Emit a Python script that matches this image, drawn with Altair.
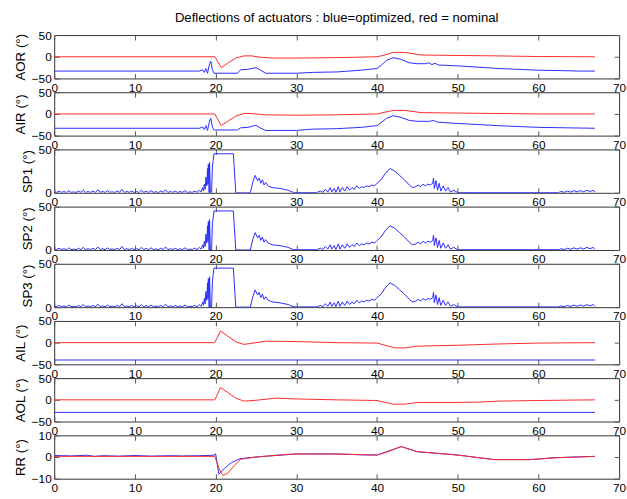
import altair as alt
import pandas as pd

TITLE = "Deflections of actuators : blue=optimized, red = nominal"
X_TICKS = [0, 10, 20, 30, 40, 50, 60, 70]

# ---- AOR ----
AOR_RED_T = [0, 19.9, 20.7, 21.5, 22.5, 23.5, 24.5, 25.5, 27, 30, 35, 40, 41, 42, 43.5, 45.5, 50, 55, 60, 67]
AOR_RED_V = [0, 0, -25, -15, -3, 2, 2, -1, -3, -3, -2, 0, 4, 10, 10, 4, 3, 2, 0.5, 0]
AOR_BLUE_T = [0, 18, 18.4, 18.6, 18.8, 19.0, 19.2, 19.4, 19.6, 19.8, 22.7, 23.1, 24, 25, 25.5, 26.2, 30, 32, 35, 38, 40,
              40.5, 41.2, 42, 43, 44, 45, 46, 46.4, 46.8, 47.2, 47.6, 50, 55, 60, 63, 65, 67]
AOR_BLUE_V = [-33, -33, -30, -36, -27, -38, -20, -10, -30, -38, -38, -30, -29, -25, -30, -38, -38, -36, -35, -31, -27,
              -20, -8, -2, -6, -14, -16, -16, -14, -18, -15, -19, -21, -27, -31, -32, -33, -33]

# ---- AIR ----
AIR_RED_T = [0, 19.9, 20.7, 21.5, 22.5, 23.5, 24.5, 26, 30, 35, 40, 41, 42, 43.5, 45.5, 50, 55, 60, 67]
AIR_RED_V = [0, 0, -27, -17, -5, 1, 1, -2, -3, -2, 0, 4, 8, 8, 3, 2, 1, 0, 0]
AIR_BLUE_T = [0, 18, 18.4, 18.6, 18.8, 19.0, 19.2, 19.4, 19.6, 19.8, 22.7, 23.1, 24, 25, 25.5, 26.2, 30, 32, 35, 38, 40,
              40.5, 41.2, 42, 43, 44, 45, 46.5, 47, 47.5, 50, 55, 60, 67]
AIR_BLUE_V = [-33, -33, -30, -36, -27, -38, -20, -10, -30, -37, -37, -32, -31, -26, -32, -38, -38, -35, -34, -31, -27,
              -20, -10, -4, -8, -15, -17, -17, -15, -19, -22, -27, -31, -33]

# ---- SP1 / SP2 / SP3 (blue only) ----
SP1_T = [0, 0.3, 0.6, 0.9, 1.2, 1.5, 1.8, 2.1, 2.4, 2.7, 3.0, 3.3, 3.6, 3.9, 4.2, 4.5, 4.8, 5.1, 5.4, 5.7,
         6.0, 6.3, 6.6, 6.9, 7.2, 7.5, 7.8, 8.1, 8.4, 8.7, 9.0, 9.3, 9.6, 9.9, 10.2, 10.5, 10.8, 11.1, 11.4, 11.7,
         12.0, 12.3, 12.6, 12.9, 13.2, 13.5, 13.8, 14.1, 14.4, 14.7, 15.0, 15.3, 15.6, 15.9, 16.2, 16.5, 16.8, 17.1,
         17.4, 17.7, 18.0, 18.2, 18.4, 18.5, 18.6, 18.7, 18.8, 18.9, 19.0, 19.05, 19.1, 19.2, 19.25, 19.35, 19.5,
         19.6, 19.8, 22.2, 22.5, 24.3, 24.6, 24.9, 25.2, 25.4, 25.6, 25.8, 26.0, 26.2, 26.5, 27.0, 28, 29, 29.6, 30,
         32.5, 33.0, 33.3, 33.6, 33.9, 34.2, 34.4, 34.7, 34.9, 35.2, 35.4, 35.7, 36.0, 36.3, 36.6, 36.9, 37.2, 37.5,
         37.8, 38.1, 38.4, 38.7, 39.0, 39.4, 39.7, 40.0, 40.5, 41.0, 41.6, 42.2, 42.8, 43.4, 44.0, 44.4, 44.8, 45.1,
         45.4, 45.7, 46.0, 46.3, 46.6, 46.9, 47.0, 47.1, 47.3, 47.5, 47.7, 47.9, 48.2, 48.5, 48.8, 49.1, 49.5, 50,
         62.5, 62.8, 63.2, 63.6, 64.0, 64.4, 64.8, 65.2, 65.6, 66.0, 66.4, 66.8, 67.0]
SP1_V = [1, 0.5, 2, 0.5, 1.5, 0.3, 2.5, 0.5, 1, 0.3, 2, 0.5, 3, 0.4, 1.5, 0.5, 2, 0.3, 3.5, 0.5,
         1.5, 0.4, 2.5, 0.5, 1.2, 0.3, 2, 0.5, 4, 0.4, 1.5, 0.5, 2, 0.4, 1.5, 0.3, 3, 0.5, 1.8, 0.4,
         2.5, 0.5, 1.2, 0.3, 2, 0.5, 3.5, 0.4, 1.5, 0.5, 2, 0.3, 1.5, 0.5, 2.5, 0.4, 1, 0.5,
         2, 0.5, 3, 1, 6, 2, 10, 4, 18, 8, 28, 10, 33, 0, 35, 0, 0,
         30, 45, 45, 0, 0, 12, 20, 14, 17, 11, 15, 9, 12, 8, 6, 5, 3, 0.5, 0.3,
         0.3, 2, 0.5, 4, 1, 6, 1, 5, 0.5, 7, 1, 6, 2, 7, 3, 6, 4, 8,
         5, 7, 6, 8, 7, 9, 8, 11, 15, 22, 28, 25, 20, 15, 9, 6, 7, 9,
         7, 10, 8, 10, 9, 11, 17, 5, 14, 3, 11, 2, 8, 2, 6, 1, 3, 0.3,
         0.3, 1.5, 0.5, 2, 0.8, 2.5, 1, 2.5, 1.2, 3, 1.5, 3, 1]
SP2_T, SP2_V = SP1_T, SP1_V
SP3_T, SP3_V = SP1_T, SP1_V

# ---- AIL ----
AIL_RED_T = [0, 19.9, 20.6, 21.5, 22.5, 23.5, 25, 26.3, 30, 35, 40, 41, 42.2, 43.5, 45, 50, 55, 60, 67]
AIL_RED_V = [0, 0, 27, 15, 2, -4, 0, 3.5, 2.5, 0, -1, -6, -12, -12, -8, -6, -3, -1, 0]
AIL_BLUE_T = [0, 67]
AIL_BLUE_V = [-40, -40]

# ---- AOL ----
AOL_RED_T = [0, 19.9, 20.6, 21.5, 22.5, 23.5, 25, 27.5, 30, 35, 40, 42, 43.5, 45, 50, 53, 55, 60, 67]
AOL_RED_V = [0, 0, 28, 17, 4, -3, -1, 4, 2, 0, -1.5, -10, -10, -6, -6, -5, -3, -1.5, 0]
AOL_BLUE_T = [0, 67]
AOL_BLUE_V = [-29, -29]

# ---- RR ----
RR_RED_T = [0, 19.9, 20.5, 20.9, 21.5, 22.3, 23.1, 25, 28, 30, 35, 40, 41, 43, 45, 50, 54.5, 59, 62, 67]
RR_RED_V = [0.3, 0.3, -6, -8.5, -7.5, -4, -1, 0, 1, 1.4, 1.4, 0.9, 2, 4.8, 2.5, 0.9, -1.2, -1.2, -0.4, 0.3]
RR_BLUE_T = [0, 2, 4, 5, 6, 8, 10, 12, 14, 16, 18, 19.8, 20.0, 20.4, 21, 22, 23, 25, 30, 35, 38, 40, 43, 45, 50,
             54.5, 59, 62, 67]
RR_BLUE_V = [0.7, 0.5, 0.8, 0.3, 0.6, 0.4, 0.7, 0.4, 0.6, 0.5, 0.6, 0.8, 1.5, -7.9, -5.5, -2.5, -0.8, 0, 1.4, 1.4,
             1.0, 0.9, 4.8, 2.4, 0.9, -1.2, -1.2, -0.3, 0.3]

PANELS = [
    ("AOR (°)", [-50, 50], [-50, 0, 50], AOR_BLUE_T, AOR_BLUE_V, AOR_RED_T, AOR_RED_V),
    ("AIR (°)", [-50, 50], [-50, 0, 50], AIR_BLUE_T, AIR_BLUE_V, AIR_RED_T, AIR_RED_V),
    ("SP1 (°)", [0, 50], [0, 50], SP1_T, SP1_V, None, None),
    ("SP2 (°)", [0, 50], [0, 50], SP2_T, SP2_V, None, None),
    ("SP3 (°)", [0, 50], [0, 50], SP3_T, SP3_V, None, None),
    ("AIL (°)", [-50, 50], [-50, 0, 50], AIL_BLUE_T, AIL_BLUE_V, AIL_RED_T, AIL_RED_V),
    ("AOL (°)", [-50, 50], [-50, 0, 50], AOL_BLUE_T, AOL_BLUE_V, AOL_RED_T, AOL_RED_V),
    ("RR (°)", [-10, 10], [-10, 0, 10], RR_BLUE_T, RR_BLUE_V, RR_RED_T, RR_RED_V),
]

FONT = "Liberation Sans"
W, H = 573, 44
BLUE, RED = "#2a2aff", "#ff2a2a"


def make_panel(name, dom, yticks, bt, bv, rt, rv):
    xs = alt.Scale(domain=[0, 70], nice=False, zero=False)
    ys = alt.Scale(domain=dom, nice=False, zero=False)
    blue_df = pd.DataFrame({"t": bt, "v": bv})
    blue = alt.Chart(blue_df).mark_line(color=BLUE, strokeWidth=1, clip=True).encode(
        x=alt.X("t:Q", scale=xs, axis=alt.Axis(values=X_TICKS, orient="bottom", offset=-5, tickSize=5,
                                               domain=False, grid=False, labelPadding=4, title=None,
                                               labelFlush=False, labelOverlap=False, format="d")),
        y=alt.Y("v:Q", scale=ys, axis=alt.Axis(values=yticks, orient="left", offset=-5, tickSize=5,
                                               domain=False, grid=False, labelPadding=3, title=name,
                                               titlePadding=4, labelOverlap=False, format="d")),
    )
    layers = [blue]
    if rt is not None:
        red_df = pd.DataFrame({"t": rt, "v": rv})
        red = alt.Chart(red_df).mark_line(color=RED, strokeWidth=1, clip=True).encode(
            x=alt.X("t:Q", scale=xs, axis=None),
            y=alt.Y("v:Q", scale=ys, axis=None),
        )
        layers.append(red)
    frame = alt.Chart(blue_df).mark_line(strokeOpacity=0).encode(
        x=alt.X("t:Q", scale=xs, axis=alt.Axis(values=X_TICKS, orient="top", offset=-5, tickSize=5,
                                               domain=False, grid=False, labels=False, title=None)),
        y=alt.Y("v:Q", scale=ys, axis=alt.Axis(values=yticks, orient="right", offset=-5, tickSize=5,
                                               domain=False, grid=False, labels=False, title=None)),
    )
    layers.append(frame)
    return alt.layer(*layers).resolve_axis(x="independent", y="independent").properties(width=W, height=H)


panels = [make_panel(*p) for p in PANELS]

chart = alt.vconcat(*panels, spacing=14, bounds="flush").properties(
    title=alt.Title(TITLE, fontSize=13.3, fontWeight="normal", font=FONT, color="black",
                    anchor="middle", frame="group", offset=4, dx=0),
    padding={"left": 13, "top": 8, "right": 0, "bottom": 0},
    background="white",
).configure_view(
    fill="white", stroke="#333333", strokeWidth=1
).configure_axis(
    labelFont=FONT, labelFontSize=12, labelColor="black",
    titleFont=FONT, titleFontSize=13.5, titleFontWeight="normal", titleColor="black",
    tickColor="#555555", tickWidth=1,
)

chart.save("out.html", embed_options={"renderer": "svg", "actions": False})
